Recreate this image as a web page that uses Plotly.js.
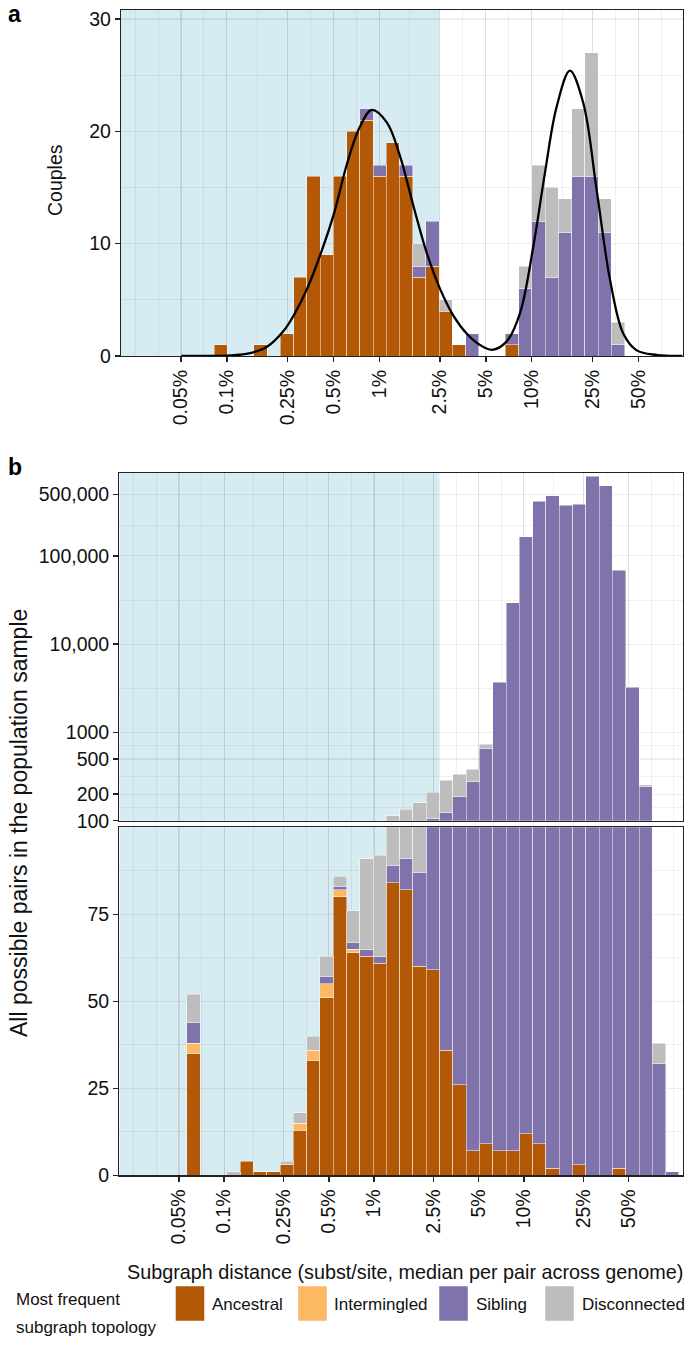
<!DOCTYPE html>
<html><head><meta charset="utf-8">
<script src="https://cdn.plot.ly/plotly-3.0.1.min.js"></script>
<style>html,body{margin:0;padding:0;background:#fff}#chart{width:685px;height:1345px}</style>
</head><body><div id="chart"></div>
<script>
// ---------------- data ----------------
const tickFractions = [0.0005, 0.001, 0.0025, 0.005, 0.01, 0.025, 0.05, 0.1, 0.25, 0.5];
const tickLabels = ['0.05%', '0.1%', '0.25%', '0.5%', '1%', '2.5%', '5%', '10%', '25%', '50%'];
const categories = ['Ancestral', 'Intermingled', 'Sibling', 'Disconnected'];

// panel a: couples (bin centres, natural log of distance)
const binA_ln = [-7.0, -6.4, -6.0, -5.8, -5.6, -5.4, -5.2, -5.0, -4.8, -4.6, -4.4, -4.2, -4.0, -3.8, -3.6, -3.4, -3.2, -2.6, -2.4, -2.2, -2.0, -1.8, -1.6, -1.4, -1.2, -1.0];
const coupleAncestral    = [1, 1, 2, 7, 16, 9, 16, 20, 21, 16, 19, 16, 7, 8, 4, 1, 0, 1, 0, 0, 0, 0, 0, 0, 0, 0];
const coupleIntermingled = [0, 0, 0, 0, 0, 0, 0, 0, 0, 0, 0, 0, 0, 0, 0, 0, 0, 0, 0, 0, 0, 0, 0, 0, 0, 0];
const coupleSibling      = [0, 0, 0, 0, 0, 0, 0, 0, 1, 1, 0, 1, 1, 4, 0, 0, 2, 1, 6, 12, 7, 11, 16, 16, 11, 1];
const coupleDisconnected = [0, 0, 0, 0, 0, 0, 0, 0, 0, 0, 0, 0, 2, 0, 1, 0, 0, 0, 2, 5, 8, 3, 6, 11, 3, 2];
const shadeA_ln = -3.7;

// fitted density curve (log10 distance, couples)
const curveLog10 = [-3.30, -3.10, -3.00, -2.92, -2.848, -2.739, -2.630, -2.558, -2.470, -2.385, -2.297, -2.210, -2.127, -2.050, -1.951, -1.864, -1.777, -1.689, -1.602, -1.514, -1.427, -1.339, -1.259, -1.164, -1.077, -0.990, -0.913, -0.836, -0.749, -0.661, -0.574, -0.486, -0.399, -0.311, -0.180, -0.100, -0.010];
const curveCouples = [0.0, 0.01, 0.04, 0.11, 0.25, 0.80, 2.2, 3.7, 6.1, 9.1, 12.7, 17.2, 20.4, 21.9, 20.8, 17.8, 13.4, 9.2, 6.0, 3.6, 2.0, 0.98, 0.55, 1.3, 3.8, 9.7, 16.3, 22.2, 25.4, 22.5, 14.8, 6.8, 2.0, 0.5, 0.09, 0.02, 0.0];

// panel b: all possible pairs (bin centres, log10 of distance)
const binB_log10 = [-3.2036, -2.9375, -2.8488, -2.7601, -2.6714, -2.5827, -2.4940, -2.4053, -2.3166, -2.2279, -2.1392, -2.0505, -1.9618, -1.8731, -1.7844, -1.6957, -1.6070, -1.5183, -1.4296, -1.3409, -1.2522, -1.1635, -1.0748, -0.9861, -0.8974, -0.8087, -0.7200, -0.6313, -0.5426, -0.4539, -0.3652, -0.2765, -0.1878, -0.0991, -0.0104];
const pairAncestral    = [35, 0, 4, 1, 1, 3, 13, 33, 51, 80, 64, 63, 61, 84, 82, 60, 59, 36, 26, 7, 9, 7, 7, 12, 9, 2, 0, 3, 0, 0, 2, 0, 0, 0, 0];
const pairIntermingled = [3, 0, 0, 0, 0, 0, 2, 3, 4, 2, 1, 0, 0, 0, 0, 0, 0, 0, 0, 0, 0, 0, 0, 0, 0, 0, 0, 0, 0, 0, 0, 0, 0, 0, 0];
const pairSibling      = [6, 0, 0, 0, 0, 0, 0, 0, 2, 1, 2, 2, 2, 5, 9, 27, 46, 87, 161, 270, 644, 3713, 29393, 163988, 413991, 479998, 376000, 385997, 795000, 622000, 68498, 3240, 243, 32, 1];
const pairDisconnected = [8, 1, 0, 0, 0, 1, 3, 4, 6, 3, 9, 26, 29, 25, 44, 73, 105, 166, 151, 105, 86, 0, 0, 0, 0, 0, 0, 0, 0, 0, 0, 0, 13, 6, 0];
const shadeB_log10 = -1.5627;

const yATicks = [0, 10, 20, 30];
const yTopTicks = [100, 200, 500, 1000, 10000, 100000, 500000];
const yTopLabels = ['100', '200', '500', '1000', '10,000', '100,000', '500,000'];
const yBottomTicks = [0, 25, 50, 75];

// ---------------- styling / layout ----------------
const colors = {Ancestral: '#B35806', Intermingled: '#FDB863', Sibling: '#8073AC', Disconnected: '#BDBDBD'};
const W = 685, H = 1345;
const px = v => v / W;
const py = v => 1 - v / H;
const FONT = 'Liberation Sans, Arial, Helvetica, sans-serif';
const TXT = '#111111';
const GRID = 'rgba(0,0,0,0.07)';
const TICKF = 19.5;

const tickLog = tickFractions.map(v => Math.log10(v));
const ext = [2 * tickLog[0] - tickLog[1]].concat(tickLog, [2 * tickLog[tickLog.length - 1] - tickLog[tickLog.length - 2]]);
const xMinor = [];
for (let i = 0; i < ext.length; i++) { xMinor.push(ext[i]); if (i < ext.length - 1) xMinor.push((ext[i] + ext[i + 1]) / 2); }

const topLog = yTopTicks.map(v => Math.log10(v));
const yTopMinor = [];
for (let i = 0; i < topLog.length - 1; i++) yTopMinor.push(Math.pow(10, (topLog[i] + topLog[i + 1]) / 2));

const seriesA = {Ancestral: coupleAncestral, Intermingled: coupleIntermingled, Sibling: coupleSibling, Disconnected: coupleDisconnected};
const seriesB = {Ancestral: pairAncestral, Intermingled: pairIntermingled, Sibling: pairSibling, Disconnected: pairDisconnected};
const xA = binA_ln.map(v => v / Math.LN10);
const widthA = 0.2 / Math.LN10;
const widthB = 0.0887;

function bars(x, vals, name, xa, ya, w) {
  return {type: 'bar', x: x, y: vals.map(v => v === 0 ? null : v), name: name, xaxis: xa, yaxis: ya,
    width: w, showlegend: false, hoverinfo: 'skip',
    marker: {color: colors[name], line: {color: 'rgba(255,255,255,0.6)', width: 0.8}}};
}

const traces = [];
categories.forEach(c => traces.push(bars(xA, seriesA[c], c, 'x', 'y', widthA)));
categories.forEach(c => traces.push(bars(binB_log10, seriesB[c], c, 'x2', 'y2', widthB)));
categories.forEach(c => traces.push(bars(binB_log10, seriesB[c], c, 'x3', 'y3', widthB)));
traces.push({type: 'scatter', mode: 'lines', x: curveLog10, y: curveCouples, xaxis: 'x', yaxis: 'y',
  line: {color: '#000', width: 2.3, shape: 'spline', smoothing: 1}, showlegend: false, hoverinfo: 'skip'});

const rangeA = [-3.695, -0.009];
const rangeB = [-3.699, 0.059];

function xAxis(domain, range, anchor, labels) {
  return {domain: domain, range: range, anchor: anchor, type: 'linear', fixedrange: true,
    tickmode: 'array', tickvals: tickLog, ticktext: tickLabels, showticklabels: labels,
    ticks: labels ? 'outside' : '', ticklen: 5, tickwidth: 1.4, tickcolor: '#222', tickangle: -90,
    tickfont: {family: FONT, size: TICKF, color: TXT},
    showgrid: true, gridcolor: GRID, gridwidth: 1.1, zeroline: false,
    minor: {tickmode: 'array', tickvals: xMinor, showgrid: true, gridcolor: GRID, gridwidth: 0.8, ticks: ''},
    showline: true, mirror: true, linecolor: '#222', linewidth: 1.2};
}
function yAxisBase(domain, anchor) {
  return {domain: domain, anchor: anchor, fixedrange: true, ticks: 'outside', ticklen: 5, tickwidth: 1.4, tickcolor: '#222',
    tickfont: {family: FONT, size: TICKF, color: TXT}, showgrid: true, gridcolor: GRID, gridwidth: 1.1, zeroline: false,
    showline: true, mirror: true, linecolor: '#222', linewidth: 1.2};
}

const ya = yAxisBase([py(356), py(10)], 'x');
Object.assign(ya, {range: [0, 30.8], tickmode: 'array', tickvals: yATicks,
  minor: {tickmode: 'array', tickvals: [5, 15, 25], showgrid: true, gridcolor: GRID, gridwidth: 0.8, ticks: ''}});
const y2 = yAxisBase([py(820.7), py(472.7)], 'x2');
Object.assign(y2, {type: 'log', range: [2, 5.943], tickmode: 'array', tickvals: yTopTicks, ticktext: yTopLabels,
  minor: {tickmode: 'array', tickvals: yTopMinor, showgrid: true, gridcolor: GRID, gridwidth: 0.8, ticks: ''}});
const y3 = yAxisBase([py(1175.3), py(827.3)], 'x3');
Object.assign(y3, {range: [0, 100], tickmode: 'array', tickvals: yBottomTicks,
  minor: {tickmode: 'array', tickvals: [12.5, 37.5, 62.5, 87.5], showgrid: true, gridcolor: GRID, gridwidth: 0.8, ticks: ''}});

const shadeFill = 'rgba(173,216,230,0.5)';
const shapes = [
  {type: 'rect', xref: 'x', yref: 'y domain', x0: rangeA[0], x1: shadeA_ln / Math.LN10, y0: 0, y1: 1, fillcolor: shadeFill, line: {width: 0}, layer: 'below'},
  {type: 'rect', xref: 'x2', yref: 'y2 domain', x0: rangeB[0], x1: shadeB_log10, y0: 0, y1: 1, fillcolor: shadeFill, line: {width: 0}, layer: 'below'},
  {type: 'rect', xref: 'x3', yref: 'y3 domain', x0: rangeB[0], x1: shadeB_log10, y0: 0, y1: 1, fillcolor: shadeFill, line: {width: 0}, layer: 'below'}
];

const annotations = [
  {text: '<b>a</b>', x: px(6), y: py(14), xref: 'paper', yref: 'paper', xanchor: 'left', yanchor: 'middle', showarrow: false, font: {family: FONT, size: 23, color: '#000'}},
  {text: '<b>b</b>', x: px(6), y: py(467), xref: 'paper', yref: 'paper', xanchor: 'left', yanchor: 'middle', showarrow: false, font: {family: FONT, size: 23, color: '#000'}},
  {text: 'Couples', x: px(55), y: py(180), xref: 'paper', yref: 'paper', xanchor: 'center', yanchor: 'middle', textangle: -90, showarrow: false, font: {family: FONT, size: 19.5, color: TXT}},
  {text: 'All possible pairs in the population sample', x: px(19), y: py(823), xref: 'paper', yref: 'paper', xanchor: 'center', yanchor: 'middle', textangle: -90, showarrow: false, font: {family: FONT, size: 23, color: TXT}},
  {text: 'Subgraph distance (subst/site, median per pair across genome)', x: px(405), y: py(1272), xref: 'paper', yref: 'paper', xanchor: 'center', yanchor: 'middle', showarrow: false, font: {family: FONT, size: 19.8, color: TXT}},
  {text: 'Most frequent', x: px(14), y: py(1299), xref: 'paper', yref: 'paper', xanchor: 'left', yanchor: 'middle', showarrow: false, font: {family: FONT, size: 17, color: TXT}},
  {text: 'subgraph topology', x: px(14), y: py(1327), xref: 'paper', yref: 'paper', xanchor: 'left', yanchor: 'middle', showarrow: false, font: {family: FONT, size: 17, color: TXT}}
];

const legendPos = [[175.5, 210], [298, 332], [439, 474], [545, 580]];
categories.forEach((c, i) => {
  shapes.push({type: 'rect', xref: 'paper', yref: 'paper', x0: px(legendPos[i][0]), x1: px(legendPos[i][0] + 29),
    y0: py(1321), y1: py(1286), fillcolor: colors[c], line: {color: 'rgba(255,255,255,0.6)', width: 0.8}});
  annotations.push({text: c, x: px(legendPos[i][1]), y: py(1304), xref: 'paper', yref: 'paper', xanchor: 'left', yanchor: 'middle',
    showarrow: false, font: {family: FONT, size: 17, color: TXT}});
});

const layout = {
  width: W, height: H, margin: {l: 0, r: 0, t: 0, b: 0},
  paper_bgcolor: '#fff', plot_bgcolor: '#fff',
  barmode: 'stack', bargap: 0, showlegend: false,
  font: {family: FONT, size: 18, color: TXT},
  xaxis: xAxis([px(121), px(682.7)], rangeA, 'y', true),
  yaxis: ya,
  xaxis2: xAxis([px(119.3), px(682.7)], rangeB, 'y2', false),
  yaxis2: y2,
  xaxis3: xAxis([px(119.3), px(682.7)], rangeB, 'y3', true),
  yaxis3: y3,
  shapes: shapes,
  annotations: annotations
};

Plotly.newPlot('chart', traces, layout, {displayModeBar: false, staticPlot: true});
</script>
</body></html>
